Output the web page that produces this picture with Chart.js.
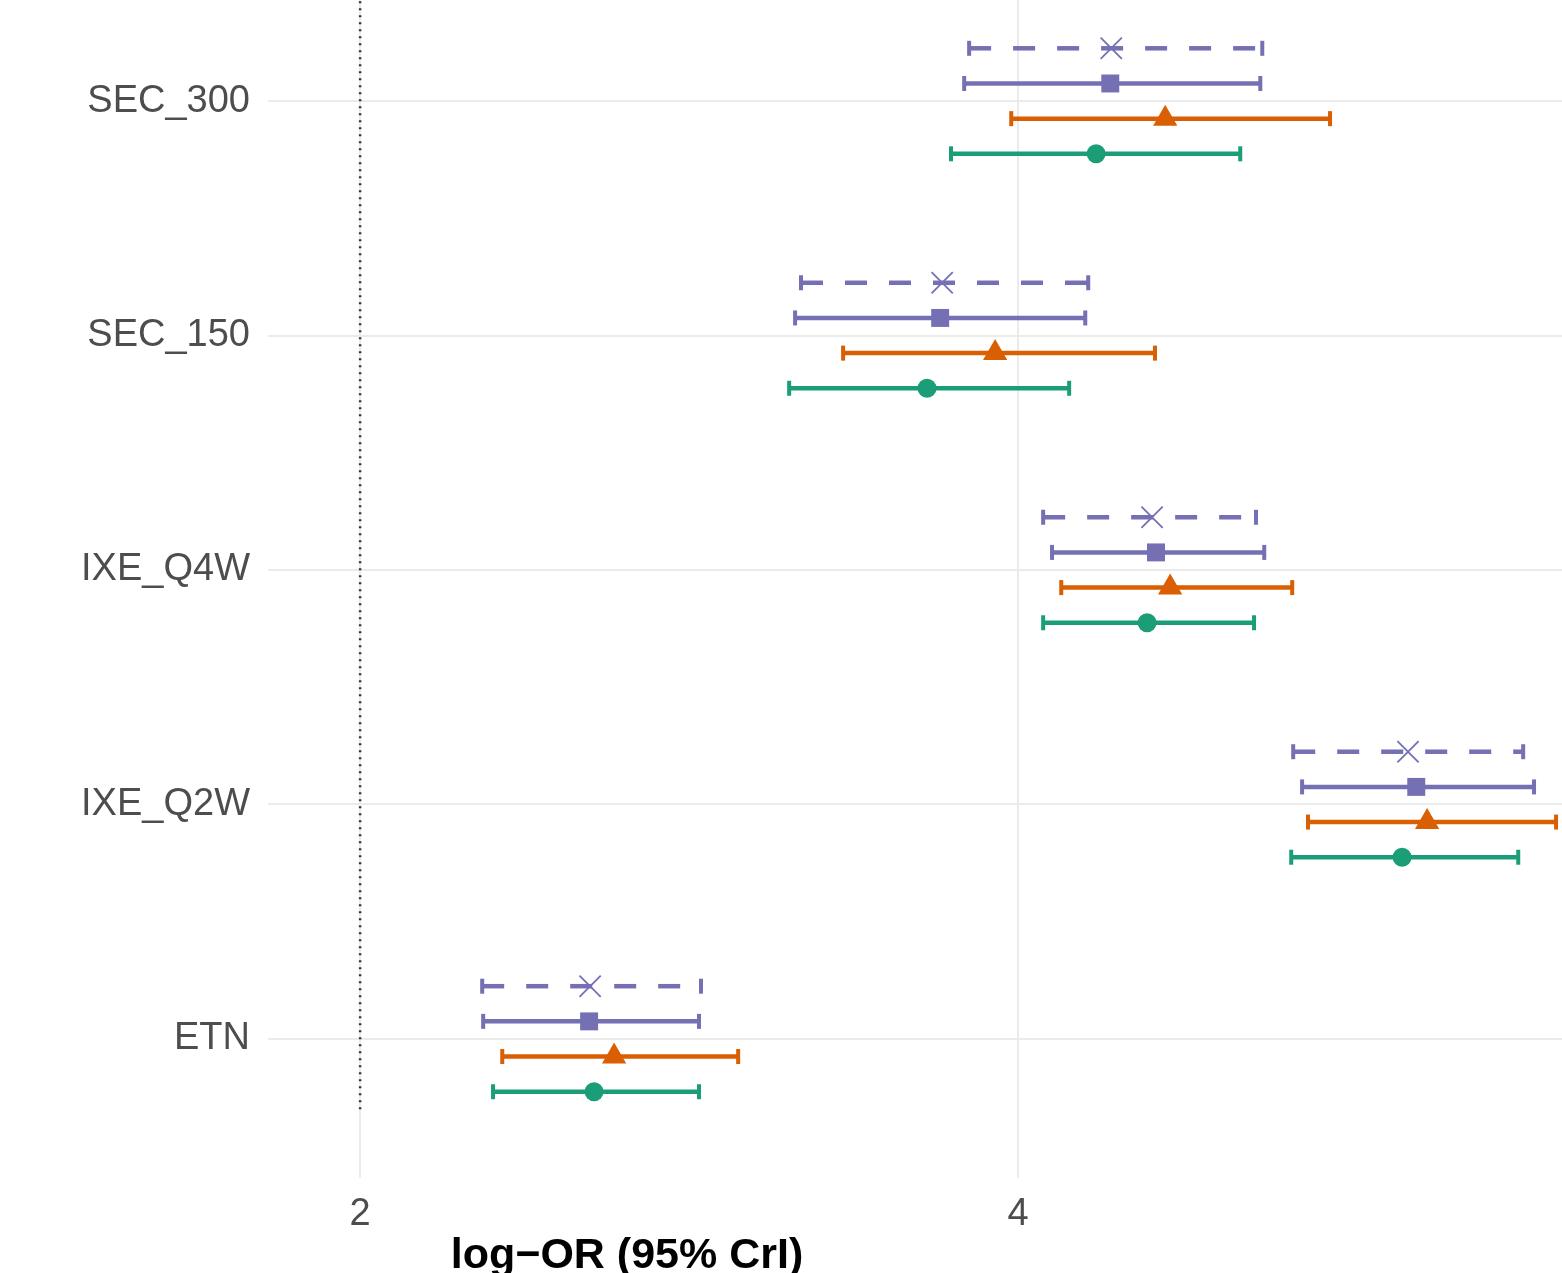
<!DOCTYPE html>
<html><head><meta charset="utf-8">
<script src="https://cdn.jsdelivr.net/npm/chart.js@4.4.1/dist/chart.umd.min.js"></script>
<style>html,body{margin:0;padding:0;background:#fff;overflow:hidden}#wrap{width:1562px;height:1273px;position:relative}</style>
</head><body><div id="wrap"><canvas id="c"></canvas></div>
<script>
// categories bottom to top
const categories = ['ETN', 'IXE_Q2W', 'IXE_Q4W', 'SEC_150', 'SEC_300'];
const xTicks = [2, 4];
const xTitle = 'log\u2212OR (95% CrI)';
const refValue = 2;

// series A: dashed line, cross marker
const aMid = [2.699, 5.185, 4.407, 3.769, 4.283];
const aLo  = [2.371, 4.836, 4.076, 3.340, 3.851];
const aHi  = [3.036, 5.535, 4.723, 4.213, 4.742];
// series B: square
const bMid = [2.696, 5.210, 4.419, 3.763, 4.280];
const bLo  = [2.374, 4.863, 4.103, 3.322, 3.836];
const bHi  = [3.030, 5.568, 4.748, 4.204, 4.736];
// series C: triangle
const cMid = [2.772, 5.243, 4.462, 3.930, 4.447];
const cLo  = [2.432, 4.881, 4.131, 3.468, 3.979];
const cHi  = [3.149, 5.635, 4.833, 4.416, 4.948];
// series D: circle
const dMid = [2.711, 5.167, 4.392, 3.723, 4.237];
const dLo  = [2.404, 4.830, 4.076, 3.304, 3.796];
const dHi  = [3.030, 5.520, 4.717, 4.155, 4.675];

const FONT = '"Liberation Sans", Arial, Helvetica, sans-serif';
const series = [
  {mid:aMid, lo:aLo, hi:aHi, off: 0.225, color:'#7570b3', dash:[22,22], style:'crossRot', r:15, fill:false, bw:1.8},
  {mid:bMid, lo:bLo, hi:bHi, off: 0.075, color:'#7570b3', dash:[], style:'rect', r:12.7, fill:true, bw:0},
  {mid:cMid, lo:cLo, hi:cHi, off:-0.075, color:'#d95f02', dash:[], style:'triangle', r:14, fill:true, bw:0},
  {mid:dMid, lo:dLo, hi:dHi, off:-0.225, color:'#1b9e77', dash:[], style:'circle', r:9.5, fill:true, bw:0}
];

const datasets = [];
series.forEach(s => {
  categories.forEach((c, i) => {
    datasets.push({
      type:'line', order:1,
      data:[{x:s.lo[i], y:i+1+s.off}, {x:s.hi[i], y:i+1+s.off}],
      borderColor:s.color, borderWidth:4.5, borderDash:s.dash,
      pointStyle:'line', pointRotation:90, pointRadius:7.5, pointBorderWidth:4,
      pointBorderColor:s.color, pointHoverRadius:7.5, fill:false, tension:0
    });
  });
  datasets.push({
    type:'scatter', order:0,
    data:categories.map((c,i)=>({x:s.mid[i], y:i+1+s.off})),
    pointStyle:s.style, pointRadius:s.r, pointHoverRadius:s.r,
    backgroundColor:s.fill ? s.color : 'rgba(0,0,0,0)',
    borderColor:s.color, pointBorderWidth:s.bw, showLine:false
  });
});
datasets.push({
  type:'line', order:2,
  data:[{x:refValue, y:0.7}, {x:refValue, y:6}],
  borderColor:'#333333', borderWidth:2.5, borderDash:[2,5], pointRadius:0, fill:false
});

const titlePlugin = {
  id:'xTitle',
  afterDraw(chart){
    const ctx = chart.ctx;
    ctx.save();
    ctx.font = 'bold 43px ' + FONT;
    ctx.fillStyle = '#000';
    ctx.textAlign = 'center';
    ctx.textBaseline = 'middle';
    ctx.fillText(xTitle, 627, 1256);
    ctx.restore();
  }
};

function zeroPad(scale){
  scale.paddingTop = 0; scale.paddingBottom = 0;
  scale.paddingLeft = 0; scale.paddingRight = 0;
}

new Chart(document.getElementById('c'), {
  data:{datasets},
  options:{
    responsive:true, maintainAspectRatio:false, animation:false,
    layout:{padding:0, autoPadding:false},
    plugins:{legend:{display:false}, tooltip:{enabled:false}},
    scales:{
      x:{
        type:'linear', min:1.72, max:5.653,
        afterBuildTicks(scale){ scale.ticks = xTicks.map(v=>({value:v})); },
        afterFit(scale){ scale.height = 95; zeroPad(scale); },
        ticks:{callback:v=>String(v), font:{size:38, family:FONT}, color:'#4d4d4d', padding:14, maxRotation:0},
        grid:{color:'#ebebeb', lineWidth:2, drawTicks:false},
        border:{display:false}
      },
      y:{
        type:'linear', min:0.407, max:5.431,
        afterBuildTicks(scale){ scale.ticks = categories.map((c,i)=>({value:i+1})); },
        afterFit(scale){ scale.width = 268; zeroPad(scale); },
        ticks:{callback:v=>categories[Math.round(v)-1], font:{size:38, family:FONT}, color:'#4d4d4d', padding:18},
        grid:{color:'#ebebeb', lineWidth:2, drawTicks:false},
        border:{display:false}
      }
    }
  },
  plugins:[titlePlugin]
});
</script>
</body></html>
